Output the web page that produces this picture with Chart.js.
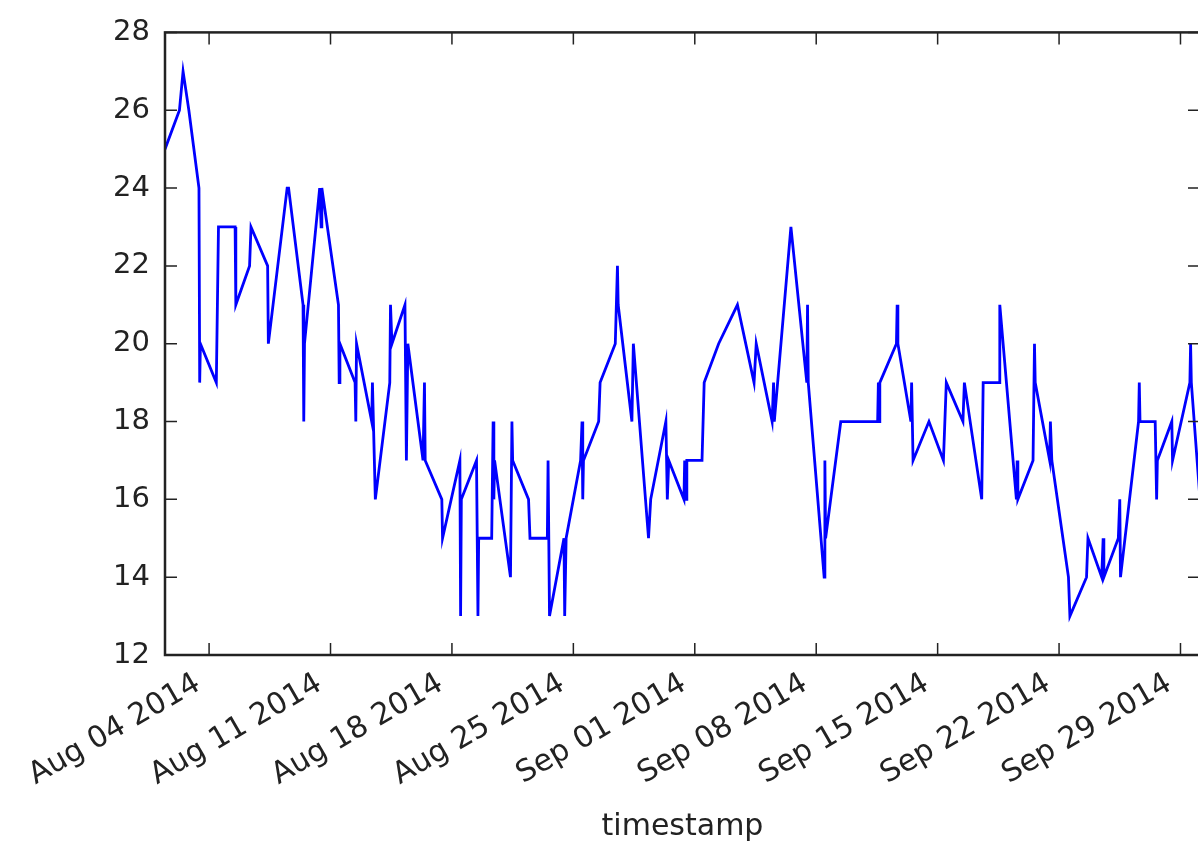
<!DOCTYPE html>
<html><head><meta charset="utf-8">
<script src="https://cdn.jsdelivr.net/npm/chart.js@4.4.1/dist/chart.umd.min.js"></script>
<style>html,body{margin:0;padding:0;background:#fff;overflow:hidden}canvas{display:block}</style>
</head><body>
<canvas id="c" width="1200" height="846"></canvas>
<script>
const timestamps = [
"2014-08-01 11:00","2014-08-02 07:00","2014-08-02 12:00","2014-08-02 20:00","2014-08-03 10:00","2014-08-03 11:00","2014-08-03 12:00",
"2014-08-04 10:00","2014-08-04 13:00","2014-08-05 12:00","2014-08-05 13:00","2014-08-06 08:00","2014-08-06 10:00","2014-08-07 09:00",
"2014-08-07 10:00","2014-08-08 12:00","2014-08-08 14:00","2014-08-09 10:00","2014-08-09 11:00","2014-08-09 12:00","2014-08-10 09:00",
"2014-08-10 11:00","2014-08-10 12:00","2014-08-11 11:00","2014-08-11 12:00","2014-08-11 13:00","2014-08-12 10:00","2014-08-12 11:00",
"2014-08-12 12:00","2014-08-13 09:00","2014-08-13 10:00","2014-08-13 14:00","2014-08-14 10:00","2014-08-14 11:00","2014-08-14 13:00",
"2014-08-15 07:00","2014-08-15 09:00","2014-08-15 11:00","2014-08-16 08:00","2014-08-16 10:00","2014-08-16 11:00","2014-08-17 10:00",
"2014-08-17 11:00","2014-08-18 11:00","2014-08-18 12:00","2014-08-18 13:00","2014-08-19 10:00","2014-08-19 12:00","2014-08-19 13:00",
"2014-08-20 07:00","2014-08-20 09:00","2014-08-20 10:00","2014-08-20 11:00","2014-08-21 09:00","2014-08-21 11:00","2014-08-21 12:00",
"2014-08-22 10:00","2014-08-22 12:00","2014-08-23 12:00","2014-08-23 13:00","2014-08-23 15:00","2014-08-24 11:00","2014-08-24 12:00",
"2014-08-24 14:00","2014-08-25 10:00","2014-08-25 12:00","2014-08-25 13:00","2014-08-25 14:00","2014-08-26 11:00","2014-08-26 13:00",
"2014-08-27 10:00","2014-08-27 13:00","2014-08-27 14:00","2014-08-28 09:00","2014-08-28 11:00","2014-08-29 08:00","2014-08-29 11:00",
"2014-08-30 08:00","2014-08-30 10:00","2014-08-30 12:00","2014-08-31 09:00","2014-08-31 10:00","2014-08-31 12:00","2014-08-31 13:00",
"2014-09-01 10:00","2014-09-01 13:00","2014-09-02 09:00","2014-09-03 11:00","2014-09-04 10:00","2014-09-04 13:00","2014-09-05 11:00",
"2014-09-05 13:00","2014-09-05 14:00","2014-09-06 13:00","2014-09-07 11:00","2014-09-07 12:00","2014-09-07 13:00","2014-09-08 11:00",
"2014-09-08 12:00","2014-09-08 13:00","2014-09-09 10:00","2014-09-11 13:00","2014-09-11 14:00","2014-09-11 15:00","2014-09-11 16:00",
"2014-09-12 15:00","2014-09-12 16:00","2014-09-12 17:00","2014-09-13 11:00","2014-09-13 12:00","2014-09-13 14:00","2014-09-14 12:00",
"2014-09-15 08:00","2014-09-15 12:00","2014-09-16 11:00","2014-09-16 13:00","2014-09-17 13:00","2014-09-17 15:00","2014-09-18 13:00",
"2014-09-18 14:00","2014-09-19 13:00","2014-09-19 14:00","2014-09-19 15:00","2014-09-20 12:00","2014-09-20 14:00","2014-09-20 15:00",
"2014-09-21 11:00","2014-09-21 12:00","2014-09-21 14:00","2014-09-22 13:00","2014-09-22 15:00","2014-09-23 14:00","2014-09-23 16:00",
"2014-09-24 11:00","2014-09-24 13:00","2014-09-24 14:00","2014-09-25 10:00","2014-09-25 12:00","2014-09-25 13:00","2014-09-26 14:00",
"2014-09-26 15:00","2014-09-26 16:00","2014-09-27 13:00","2014-09-27 15:00","2014-09-27 16:00","2014-09-28 12:00","2014-09-28 13:00",
"2014-09-29 13:00","2014-09-29 14:00","2014-09-29 15:00","2014-09-30 03:00"
];
const temperature = [
25,26,27,26,24,19,20,
19,23,23,21,22,23,22,
20,24,24,21,18,20,24,
23,24,21,19,20,19,18,
20,18,19,16,19,21,20,
21,17,20,17,19,17,16,
15,17,13,16,17,13,15,
15,18,16,17,14,18,17,
16,15,15,17,13,15,13,
15,17,18,16,17,18,19,
20,22,21,18,20,15,16,
18,16,17,16,17,16,17,
17,19,20,21,19,20,18,
19,18,23,19,21,19,14,
17,15,18,18,19,18,19,
20,21,20,18,19,17,18,
17,19,18,19,16,19,19,
21,16,17,16,17,20,19,
17,18,17,14,13,14,15,
14,15,14,15,16,14,18,
19,18,18,16,17,18,17,
19,20,19,16
];
const xTickDates = ["2014-08-04","2014-08-11","2014-08-18","2014-08-25","2014-09-01","2014-09-08","2014-09-15","2014-09-22","2014-09-29"];
const yTicks = [12,14,16,18,20,22,24,26,28];
const xAxisTitle = "timestamp";
const MONTHS = ["Jan","Feb","Mar","Apr","May","Jun","Jul","Aug","Sep","Oct","Nov","Dec"];

function parseTs(s){
  const parts = s.split(' ');
  const [Y,M,D] = parts[0].split('-').map(Number);
  const [h,m] = (parts[1]||'00:00').split(':').map(Number);
  return Date.UTC(Y,M-1,D,h,m);
}
function fmt(ms){
  const d = new Date(ms);
  return MONTHS[d.getUTCMonth()] + ' ' + String(d.getUTCDate()).padStart(2,'0') + ' ' + d.getUTCFullYear();
}
const points = timestamps.map((t,i)=>({x:parseTs(t), y:temperature[i]}));
const xTickValues = xTickDates.map(parseTs);
const xMin = points[0].x, xMax = points[points.length-1].x;

const FONT = 'DejaVu Sans';
const TXT = '#222';

const framePlugin = {
  id:'frame',
  afterDraw(chart){
    const {ctx, chartArea:a, scales:{x,y}} = chart;
    ctx.save();
    ctx.strokeStyle = '#222';
    ctx.lineWidth = 1.5;
    const L = 12;
    ctx.beginPath();
    xTickValues.forEach(v=>{
      const px = x.getPixelForValue(v);
      ctx.moveTo(px, a.bottom); ctx.lineTo(px, a.bottom-L);
      ctx.moveTo(px, a.top); ctx.lineTo(px, a.top+L);
    });
    yTicks.forEach(v=>{
      const py = y.getPixelForValue(v);
      ctx.moveTo(a.left, py); ctx.lineTo(a.left+L, py);
      ctx.moveTo(a.right, py); ctx.lineTo(a.right-L, py);
    });
    ctx.stroke();
    ctx.lineWidth = 2.5;
    ctx.strokeRect(a.left, a.top, a.right-a.left, a.bottom-a.top);
    ctx.restore();
  }
};

new Chart(document.getElementById('c'), {
  type:'line',
  data:{datasets:[{data:points, borderColor:'#0000ff', borderWidth:2.8, pointRadius:0, tension:0, fill:false}]},
  options:{
    responsive:false, animation:false, devicePixelRatio:1,
    layout:{padding:{top:27.5, right:0, left:0, bottom:0}},
    plugins:{legend:{display:false}, tooltip:{enabled:false}},
    scales:{
      x:{
        type:'linear', min:xMin, max:xMax,
        afterBuildTicks: s => { s.ticks = xTickValues.map(v=>({value:v})); },
        afterFit: s => { s.height = 191; s.paddingLeft = 0; s.paddingRight = 0; },
        ticks:{callback:v=>fmt(v), minRotation:30, maxRotation:30, autoSkip:false, font:{family:FONT, size:30}, color:TXT, padding:11, labelOffset:-11},
        grid:{display:false, drawTicks:false}, border:{display:false},
        title:{display:true, text:xAxisTitle, font:{family:FONT, size:30}, color:TXT, padding:{top:0, bottom:1}}
      },
      y:{
        min:12, max:28,
        afterBuildTicks: s => { s.ticks = yTicks.map(v=>({value:v})); },
        afterFit: s => { s.width = 165; },
        ticks:{font:{family:FONT, size:29}, color:TXT, padding:15},
        grid:{display:false, drawTicks:false}, border:{display:false}
      }
    }
  },
  plugins:[framePlugin]
});
</script>
</body></html>
